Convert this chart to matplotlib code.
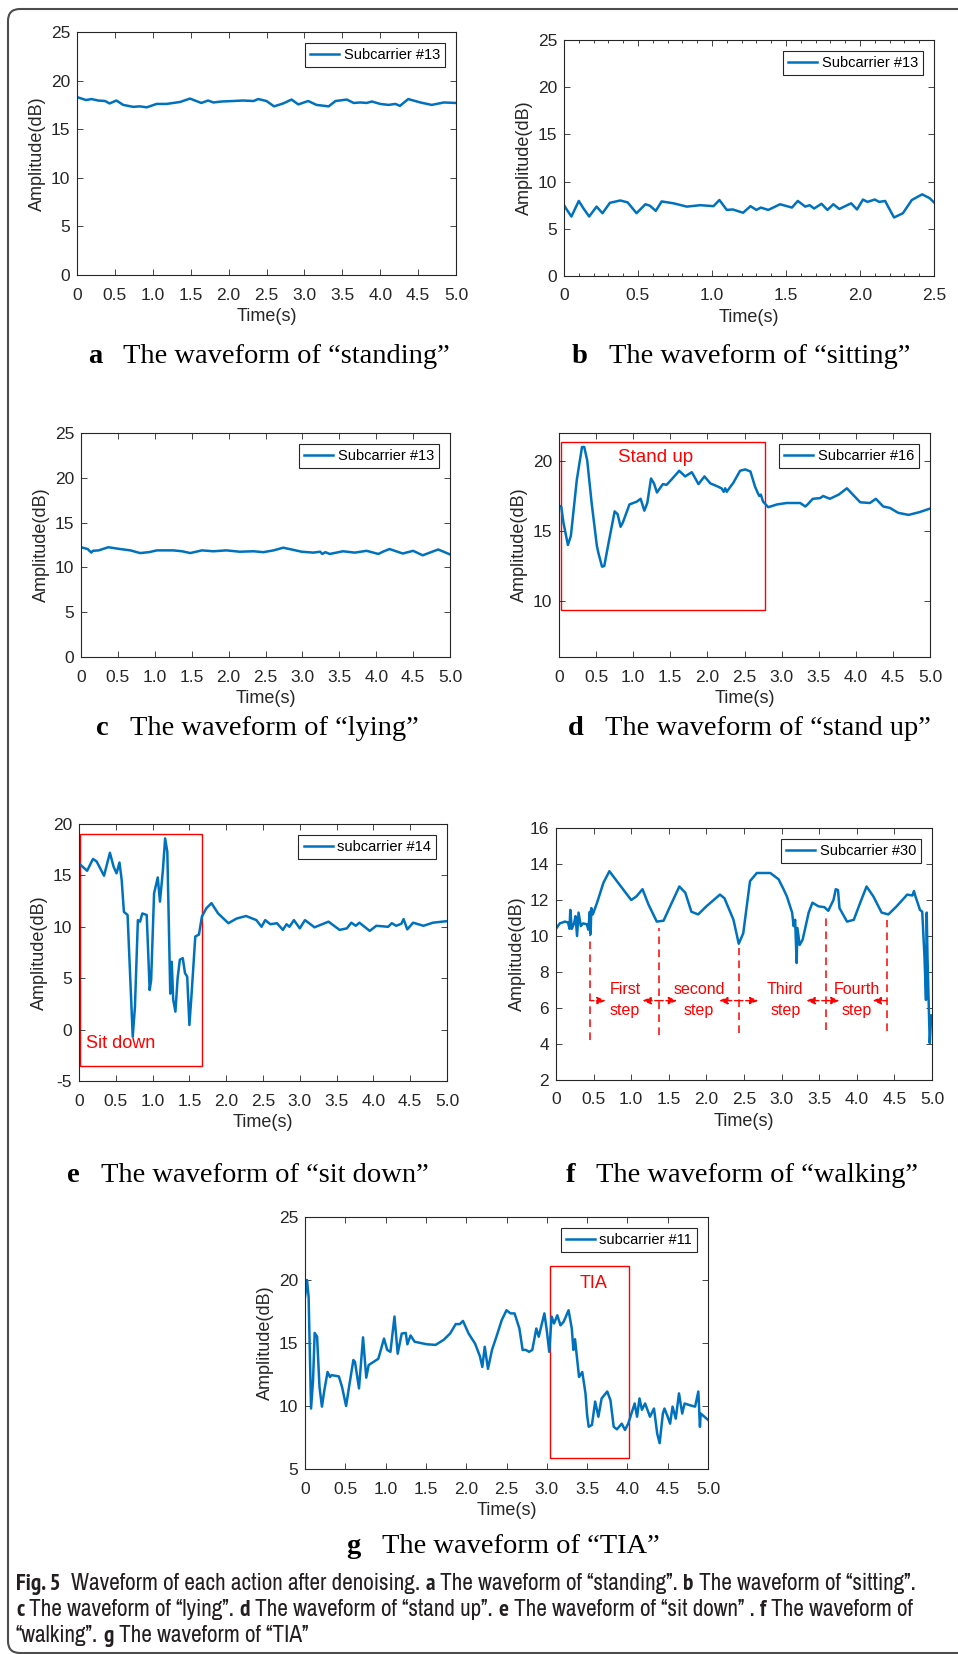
import matplotlib
matplotlib.use('Agg')
import matplotlib.pyplot as plt
from matplotlib.patches import Rectangle, FancyBboxPatch
from matplotlib.transforms import IdentityTransform
from matplotlib.font_manager import FontProperties, fontManager

# ---- data ----
a_t = [0, 0.12, 0.19, 0.28, 0.37, 0.43, 0.52, 0.61, 0.74, 0.83, 0.92, 1.05, 1.18, 1.36, 1.49, 1.64, 1.73, 1.80, 1.91,
       2.06, 2.19, 2.33, 2.39, 2.50, 2.60, 2.72, 2.83, 2.92, 3.05, 3.16, 3.32, 3.41, 3.56, 3.65, 3.74, 3.82, 3.89, 4.00,
       4.11, 4.20, 4.26, 4.37, 4.53, 4.68, 4.84, 5.00]
a_amp = [18.3, 18.0, 18.1, 17.95, 17.9, 17.65, 17.95, 17.5, 17.3, 17.35, 17.25, 17.6, 17.6, 17.8, 18.15, 17.7, 17.95,
         17.75, 17.85, 17.9, 17.95, 17.9, 18.1, 17.9, 17.35, 17.65, 18.05, 17.55, 17.9, 17.5, 17.35, 17.9, 18.05, 17.7,
         17.75, 17.7, 17.85, 17.6, 17.5, 17.6, 17.4, 18.1, 17.75, 17.5, 17.75, 17.7]

b_t = [0, 0.02, 0.05, 0.10, 0.13, 0.17, 0.22, 0.26, 0.31, 0.38, 0.43, 0.49, 0.55, 0.58, 0.62, 0.66, 0.74, 0.83, 0.92,
       1.01, 1.05, 1.10, 1.14, 1.21, 1.26, 1.30, 1.33, 1.38, 1.46, 1.54, 1.58, 1.63, 1.66, 1.69, 1.74, 1.78, 1.82, 1.86,
       1.94, 1.98, 2.02, 2.05, 2.10, 2.13, 2.17, 2.19, 2.23, 2.29, 2.35, 2.42, 2.47, 2.50]
b_amp = [7.5, 7.0, 6.3, 7.95, 7.2, 6.3, 7.35, 6.65, 7.75, 8.0, 7.8, 6.65, 7.6, 7.45, 6.9, 7.9, 7.7, 7.35, 7.5, 7.4,
         8.05, 7.0, 7.05, 6.7, 7.4, 7.0, 7.25, 7.0, 7.6, 7.25, 7.95, 7.35, 7.5, 7.15, 7.65, 7.0, 7.6, 7.1, 7.7, 7.05,
         8.1, 7.85, 8.1, 7.85, 7.95, 7.35, 6.2, 6.65, 8.05, 8.65, 8.25, 7.8]

c_t = [0, 0.09, 0.14, 0.16, 0.24, 0.37, 0.53, 0.67, 0.80, 0.92, 1.03, 1.25, 1.37, 1.48, 1.64, 1.79, 1.97, 2.15, 2.34,
       2.47, 2.61, 2.74, 2.88, 2.99, 3.15, 3.24, 3.27, 3.31, 3.37, 3.55, 3.71, 3.87, 4.03, 4.09, 4.18, 4.36, 4.50, 4.63,
       4.84, 5.00]
c_amp = [12.25, 12.05, 11.65, 11.85, 11.9, 12.25, 12.05, 11.9, 11.6, 11.7, 11.9, 11.9, 11.8, 11.6, 11.9, 11.8, 11.9,
         11.75, 11.8, 11.7, 11.9, 12.2, 11.95, 11.75, 11.65, 11.75, 11.5, 11.7, 11.5, 11.8, 11.65, 11.85, 11.5, 11.75,
         12.05, 11.55, 11.85, 11.35, 12.0, 11.45]

d_t = [0, 0.03, 0.06, 0.12, 0.16, 0.24, 0.31, 0.34, 0.38, 0.44, 0.51, 0.53, 0.58, 0.61, 0.67, 0.75, 0.79, 0.83, 0.86,
       0.95, 1.05, 1.10, 1.15, 1.19, 1.24, 1.28, 1.32, 1.40, 1.45, 1.52, 1.62, 1.70, 1.79, 1.88, 1.96, 2.04, 2.13, 2.19,
       2.22, 2.24, 2.26, 2.35, 2.44, 2.51, 2.58, 2.64, 2.68, 2.70, 2.72, 2.75, 2.82, 2.94, 3.07, 3.25, 3.32, 3.36, 3.42,
       3.52, 3.56, 3.65, 3.77, 3.88, 3.96, 4.06, 4.19, 4.27, 4.37, 4.46, 4.57, 4.71, 4.86, 5.00]
d_amp = [16.8, 16.75, 15.6, 14.0, 14.65, 18.65, 21.0, 21.0, 20.05, 17.0, 13.95, 13.45, 12.45, 12.5, 14.2, 16.4, 16.2,
         15.3, 15.6, 16.9, 17.1, 17.3, 16.45, 17.0, 18.75, 18.4, 17.75, 18.35, 18.3, 18.7, 19.3, 18.9, 19.2, 18.35, 18.9,
         18.4, 18.2, 18.05, 17.8, 18.05, 17.8, 18.45, 19.3, 19.4, 19.25, 18.2, 17.7, 17.5, 17.6, 17.1, 16.7, 16.9, 17.0,
         17.0, 16.75, 16.95, 17.3, 17.35, 17.5, 17.3, 17.6, 18.05, 17.6, 17.05, 17.0, 17.3, 16.75, 16.65, 16.3, 16.15,
         16.35, 16.6]

e_t = [0, 0.04, 0.11, 0.19, 0.24, 0.34, 0.42, 0.47, 0.51, 0.55, 0.58, 0.61, 0.66, 0.73, 0.76, 0.80, 0.83, 0.86, 0.92,
       0.96, 0.98, 1.02, 1.07, 1.10, 1.14, 1.17, 1.20, 1.24, 1.26, 1.28, 1.31, 1.34, 1.37, 1.41, 1.44, 1.47, 1.50, 1.53,
       1.58, 1.63, 1.67, 1.73, 1.80, 1.89, 2.03, 2.14, 2.27, 2.41, 2.48, 2.53, 2.60, 2.69, 2.77, 2.82, 2.86, 2.92, 3.00,
       3.07, 3.20, 3.39, 3.54, 3.64, 3.70, 3.76, 3.81, 3.95, 4.04, 4.20, 4.25, 4.31, 4.38, 4.41, 4.46, 4.54, 4.68, 4.81,
       5.00]
e_amp = [16.2, 15.9, 15.45, 16.6, 16.35, 14.97, 17.2, 15.85, 15.2, 16.25, 14.55, 11.45, 11.15, -0.7, 2.2, 10.65, 10.5,
         11.3, 11.15, 3.85, 4.8, 13.25, 14.8, 12.45, 15.5, 18.6, 17.3, 3.5, 6.6, 2.9, 1.75, 5.0, 6.8, 6.95, 5.5, 5.15,
         0.45, 3.5, 9.05, 9.25, 11.0, 11.8, 12.3, 11.3, 10.35, 10.8, 11.05, 10.65, 10.0, 10.65, 10.25, 10.35, 9.7, 10.25,
         10.0, 10.65, 9.85, 10.65, 9.95, 10.5, 9.7, 9.85, 10.4, 10.1, 10.4, 9.6, 10.1, 10.0, 10.35, 10.1, 10.3, 10.75,
         9.75, 10.4, 10.1, 10.4, 10.55]

f_t = [0, 0.05, 0.12, 0.16, 0.18, 0.19, 0.21, 0.24, 0.26, 0.28, 0.30, 0.33, 0.36, 0.41, 0.43, 0.45, 0.46, 0.47, 0.49,
       0.55, 0.63, 0.71, 0.80, 1.00, 1.07, 1.15, 1.23, 1.34, 1.43, 1.54, 1.64, 1.72, 1.80, 1.89, 2.00, 2.18, 2.24, 2.36,
       2.43, 2.49, 2.58, 2.67, 2.85, 2.96, 3.02, 3.07, 3.14, 3.16, 3.18, 3.20, 3.21, 3.24, 3.28, 3.36, 3.41, 3.49, 3.57,
       3.62, 3.69, 3.72, 3.75, 3.77, 3.87, 3.96, 4.05, 4.13, 4.22, 4.33, 4.42, 4.53, 4.67, 4.74, 4.76, 4.78, 4.84, 4.87,
       4.90, 4.92, 4.93, 4.94, 4.97, 4.99, 5.00]
f_amp = [10.4, 10.7, 10.8, 10.75, 10.4, 11.45, 10.4, 10.7, 11.1, 10.0, 11.3, 10.55, 10.7, 10.65, 10.35, 11.35, 10.1,
         11.55, 11.2, 11.9, 12.95, 13.6, 13.1, 12.0, 12.2, 12.6, 11.75, 10.8, 10.85, 11.85, 12.75, 12.4, 11.35, 11.2,
         11.65, 12.3, 12.1, 10.9, 9.57, 10.15, 13.05, 13.5, 13.5, 13.15, 12.65, 12.2, 11.3, 10.55, 10.9, 8.5, 10.45, 9.5,
         9.8, 11.3, 11.85, 11.65, 11.6, 11.4, 12.0, 12.6, 12.55, 11.55, 10.8, 10.9, 11.9, 12.75, 12.2, 11.3, 11.2, 11.65,
         12.3, 12.25, 12.5, 12.2, 11.45, 11.35, 8.85, 6.45, 11.3, 8.85, 4.05, 5.6, 5.55]

g_t = [0, 0.025, 0.045, 0.075, 0.10, 0.12, 0.15, 0.18, 0.21, 0.24, 0.28, 0.31, 0.33, 0.42, 0.46, 0.51, 0.54, 0.60, 0.62,
       0.67, 0.72, 0.76, 0.79, 0.85, 0.91, 0.98, 1.02, 1.06, 1.11, 1.15, 1.20, 1.25, 1.27, 1.31, 1.36, 1.51, 1.62, 1.72,
       1.80, 1.87, 1.92, 1.96, 2.03, 2.11, 2.17, 2.20, 2.23, 2.27, 2.32, 2.38, 2.44, 2.50, 2.55, 2.60, 2.66, 2.70, 2.74,
       2.78, 2.82, 2.87, 2.90, 2.93, 2.97, 3.00, 3.03, 3.06, 3.09, 3.13, 3.17, 3.21, 3.27, 3.31, 3.33, 3.35, 3.40, 3.44,
       3.48, 3.50, 3.52, 3.56, 3.60, 3.64, 3.68, 3.75, 3.79, 3.83, 3.87, 3.93, 3.97, 4.01, 4.05, 4.09, 4.12, 4.15, 4.18,
       4.22, 4.28, 4.33, 4.37, 4.40, 4.44, 4.46, 4.50, 4.53, 4.56, 4.60, 4.64, 4.68, 4.71, 4.78, 4.84, 4.88, 4.90, 4.91,
       5.00]
g_amp = [18.65, 20.0, 18.65, 9.8, 12.05, 15.8, 15.5, 11.5, 9.95, 11.25, 12.7, 12.3, 12.45, 12.35, 11.5, 10.0, 11.25,
         13.65, 13.5, 11.4, 15.45, 12.25, 13.25, 13.5, 13.75, 15.35, 14.45, 14.3, 17.1, 14.15, 15.75, 15.8, 14.9, 15.6,
         15.1, 14.9, 14.85, 15.25, 15.75, 16.5, 16.5, 16.75, 15.75, 14.95, 13.95, 13.1, 14.7, 12.95, 14.45, 15.6, 16.8,
         17.6, 17.35, 17.35, 16.15, 14.45, 14.45, 14.3, 14.45, 16.15, 15.5, 16.3, 17.35, 16.0, 14.3, 17.1, 16.55, 17.2,
         16.4, 16.7, 17.6, 16.15, 14.45, 15.3, 12.3, 12.7, 11.0, 9.3, 8.35, 8.5, 10.35, 9.15, 10.6, 11.15, 10.45, 8.35,
         8.15, 8.6, 8.1, 8.6, 9.4, 10.2, 9.15, 10.6, 9.7, 10.2, 9.15, 9.8, 7.8, 7.05, 9.4, 9.8, 9.15, 8.6, 9.95, 9.0,
         11.0, 9.4, 10.2, 10.05, 9.95, 11.15, 8.35, 9.4, 8.9]

ticks_5s = [0, 0.5, 1.0, 1.5, 2.0, 2.5, 3.0, 3.5, 4.0, 4.5, 5.0]
labels_5s = ['0', '0.5', '1.0', '1.5', '2.0', '2.5', '3.0', '3.5', '4.0', '4.5', '5.0']
ticks_25s = [0, 0.5, 1.0, 1.5, 2.0, 2.5]
labels_25s = ['0', '0.5', '1.0', '1.5', '2.0', '2.5']
minor_25s = [0.1, 0.2, 0.3, 0.4, 0.6, 0.7, 0.8, 0.9, 1.1, 1.2, 1.3, 1.4, 1.6, 1.7, 1.8, 1.9, 2.1, 2.2, 2.3, 2.4]

# red annotations
d_box = (0.03, 9.36, 2.77, 21.37)      # t0, y0, t1, y1
e_box = (0.02, -3.5, 1.67, 19.0)
g_box = (3.04, 5.9, 4.02, 21.1)
step_bounds = [0.45, 1.37, 2.43, 3.59, 4.40]
step_tops = [10.07, 10.45, 9.33, 11.3, 10.9]
step_bottoms = [4.24, 4.52, 4.6, 4.8, 4.7]
step_words = ['First', 'second', 'Third', 'Fourth']
step_word_t = [0.92, 1.90, 3.05, 4.00]
step_arrows = [(0.45, 0.66), (1.37, 1.15), (1.37, 1.61), (2.43, 2.17), (2.43, 2.69),
               (3.59, 3.33), (3.59, 3.77), (4.40, 4.21)]

sub_letters = ['a', 'b', 'c', 'd', 'e', 'f', 'g']
sub_names = ['standing', 'sitting', 'lying', 'stand up', 'sit down', 'walking', 'TIA']

# ---- figure ----
W, H = 958, 1654
plt.rcParams['font.family'] = ['Liberation Sans', 'DejaVu Sans']
plt.rcParams['axes.unicode_minus'] = False
fig = plt.figure(figsize=(W / 100, H / 100), dpi=100)
fig.patch.set_facecolor('white')
renderer = fig.canvas.get_renderer()
BLUE = '#0072BD'
GRAY = '#262626'


def px_axes(x0, y0, x1, y1):
    return fig.add_axes([x0 / W, 1 - y1 / H, (x1 - x0) / W, (y1 - y0) / H])


def waveform(ax, t, amp, label, xticks, xlabels, ylim, yticks, xminor=None):
    ax.plot(t, amp, color=BLUE, lw=1.8, label=label)
    ax.set_xlim(xticks[0], xticks[-1])
    ax.set_ylim(*ylim)
    ax.set_xticks(xticks)
    ax.set_xticklabels(xlabels)
    ax.set_yticks(yticks)
    if xminor is not None:
        ax.set_xticks(xminor, minor=True)
    ax.tick_params(which='both', direction='in', top=True, right=True, colors=GRAY,
                   labelsize=12.5, width=0.6)
    ax.tick_params(which='major', length=4, pad=5)
    ax.tick_params(axis='x', which='major', pad=9)
    ax.tick_params(which='minor', length=2.2)
    for s in ax.spines.values():
        s.set_color(GRAY)
        s.set_linewidth(0.8)
    ax.set_xlabel('Time(s)', fontsize=13, color=GRAY, labelpad=4)
    ax.set_ylabel('Amplitude(dB)', fontsize=13, color=GRAY, labelpad=3)
    leg = ax.legend(loc='upper right', fontsize=10.5, fancybox=False, edgecolor=GRAY, framealpha=1,
                    borderpad=0.35, handlelength=2.0, handletextpad=0.3, borderaxespad=0.75)
    leg.get_frame().set_linewidth(0.8)


def red_box(ax, box):
    t0, y0, t1, y1 = box
    ax.add_patch(Rectangle((t0, y0), t1 - t0, y1 - y0, fill=False, edgecolor='red', lw=1.0))


ax_a = px_axes(77, 32, 456, 275)
waveform(ax_a, a_t, a_amp, 'Subcarrier #13', ticks_5s, labels_5s, (0, 25), [0, 5, 10, 15, 20, 25])

ax_b = px_axes(564, 40, 934, 276)
waveform(ax_b, b_t, b_amp, 'Subcarrier #13', ticks_25s, labels_25s, (0, 25), [0, 5, 10, 15, 20, 25],
         xminor=minor_25s)

ax_c = px_axes(81, 433, 450, 657)
waveform(ax_c, c_t, c_amp, 'Subcarrier #13', ticks_5s, labels_5s, (0, 25), [0, 5, 10, 15, 20, 25])

ax_d = px_axes(559, 433, 930, 657)
waveform(ax_d, d_t, d_amp, 'Subcarrier #16', ticks_5s, labels_5s, (6, 22), [10, 15, 20])
red_box(ax_d, d_box)
ax_d.text(1.30, 20.25, 'Stand up', color='red', fontsize=13.5, ha='center', va='center')

ax_e = px_axes(79, 824, 447, 1081)
waveform(ax_e, e_t, e_amp, 'subcarrier #14', ticks_5s, labels_5s, (-5, 20), [-5, 0, 5, 10, 15, 20])
red_box(ax_e, e_box)
ax_e.text(0.095, -1.4, 'Sit down', color='red', fontsize=13, ha='left', va='center')

ax_f = px_axes(556, 828, 932, 1080)
waveform(ax_f, f_t, f_amp, 'Subcarrier #30', ticks_5s, labels_5s, (2, 16), [2, 4, 6, 8, 10, 12, 14, 16])
for b, top, bot in zip(step_bounds, step_tops, step_bottoms):
    ax_f.plot([b, b], [bot, top], color='red', lw=1.1, ls=(0, (5, 3.5)))
for t0, t1 in step_arrows:
    ax_f.annotate('', xy=(t1, 6.41), xytext=(t0, 6.41),
                  arrowprops=dict(arrowstyle='-|>,head_length=0.5,head_width=0.22', color='red', lw=1.0,
                                  linestyle=(0, (3, 2)), shrinkA=0, shrinkB=0))
for word, t in zip(step_words, step_word_t):
    ax_f.text(t, 7.05, word, color='red', fontsize=11.5, ha='center', va='center')
    ax_f.text(t, 5.85, 'step', color='red', fontsize=11.5, ha='center', va='center')

ax_g = px_axes(305, 1217, 708, 1469)
waveform(ax_g, g_t, g_amp, 'subcarrier #11', ticks_5s, labels_5s, (5, 25), [5, 10, 15, 20, 25])
red_box(ax_g, g_box)
ax_g.text(3.58, 19.75, 'TIA', color='red', fontsize=13, ha='center', va='center')


# ---- text with bold pieces, placed in pixels ----
def sized(fp, size):
    fp = fp.copy()
    fp.set_size(size)
    return fp


def text_width(s, fp):
    t = fig.text(0, 0, s, fontproperties=fp, transform=IdentityTransform())
    w = t.get_window_extent(renderer).width
    t.remove()
    return w


def rich(x, y_base, parts, size, fp_reg, fp_bold, color, draw=True):
    reg, bold = sized(fp_reg, size), sized(fp_bold, size)
    sp = text_width('a a', reg) - text_width('aa', reg)
    cur = x
    for s, is_bold, nsp in parts:
        cur += nsp * sp
        fp = bold if is_bold else reg
        if draw:
            fig.text(cur, H - y_base, s, fontproperties=fp, color=color,
                     ha='left', va='baseline', transform=IdentityTransform())
        cur += text_width(s, fp)
    return cur - x


serif_reg = FontProperties(family=['Liberation Serif', 'DejaVu Serif'])
serif_bold = FontProperties(family=['Liberation Serif', 'DejaVu Serif'], weight='bold')
sub_cx = [269, 741, 257, 749, 248, 742, 503]
sub_base = [363, 363, 735, 735, 1182, 1182, 1553]
for letter, name, cx, yb in zip(sub_letters, sub_names, sub_cx, sub_base):
    parts = [(letter, True, 0), ('The waveform of \u201c%s\u201d' % name, False, 3)]
    w = rich(0, 0, parts, 20.5, serif_reg, serif_bold, 'black', draw=False)
    rich(cx - w / 2, yb, parts, 20.5, serif_reg, serif_bold, 'black')

# caption: condensed sans if one is installed, with its bold face when present
cap_reg = FontProperties(family=['Liberation Sans'])
cap_bold = FontProperties(family=['Liberation Sans'], weight='bold')
narrow = [f for f in fontManager.ttflist if 'Narrow' in f.name and 'Italic' not in f.fname]
if narrow:
    regs = [f for f in narrow if 'Bold' not in f.fname]
    bolds = [f for f in narrow if 'Bold' in f.fname]
    if regs:
        cap_reg = FontProperties(fname=regs[0].fname)
    if bolds:
        cap_bold = FontProperties(fname=bolds[0].fname)

cap_lines = [
    [('Fig. 5', True, 0), ('Waveform of each action after denoising.', False, 2), ('a', True, 1),
     ('The waveform of \u201cstanding\u201d.', False, 1), ('b', True, 1),
     ('The waveform of \u201csitting\u201d.', False, 1)],
    [('c', True, 0), ('The waveform of \u201clying\u201d.', False, 1), ('d', True, 1),
     ('The waveform of \u201cstand up\u201d.', False, 1), ('e', True, 1),
     ('The waveform of \u201csit down\u201d .', False, 1), ('f', True, 1), ('The waveform of', False, 1)],
    [('\u201cwalking\u201d.', False, 0), ('g', True, 1), ('The waveform of \u201cTIA\u201d', False, 1)],
]
w0 = rich(0, 0, cap_lines[0], 14, cap_reg, cap_bold, '#231F20', draw=False)
cap_size = 14 * 902 / w0
for line, yb in zip(cap_lines, [1590, 1616, 1642]):
    rich(16, yb, line, cap_size, cap_reg, cap_bold, '#231F20')

frame = FancyBboxPatch((8, 1), 1000, 1644, boxstyle='round,pad=0,rounding_size=12', fill=False,
                       edgecolor='#4d4d4d', lw=1.5, transform=IdentityTransform())
fig.add_artist(frame)

fig.savefig('out.png', dpi=100)
